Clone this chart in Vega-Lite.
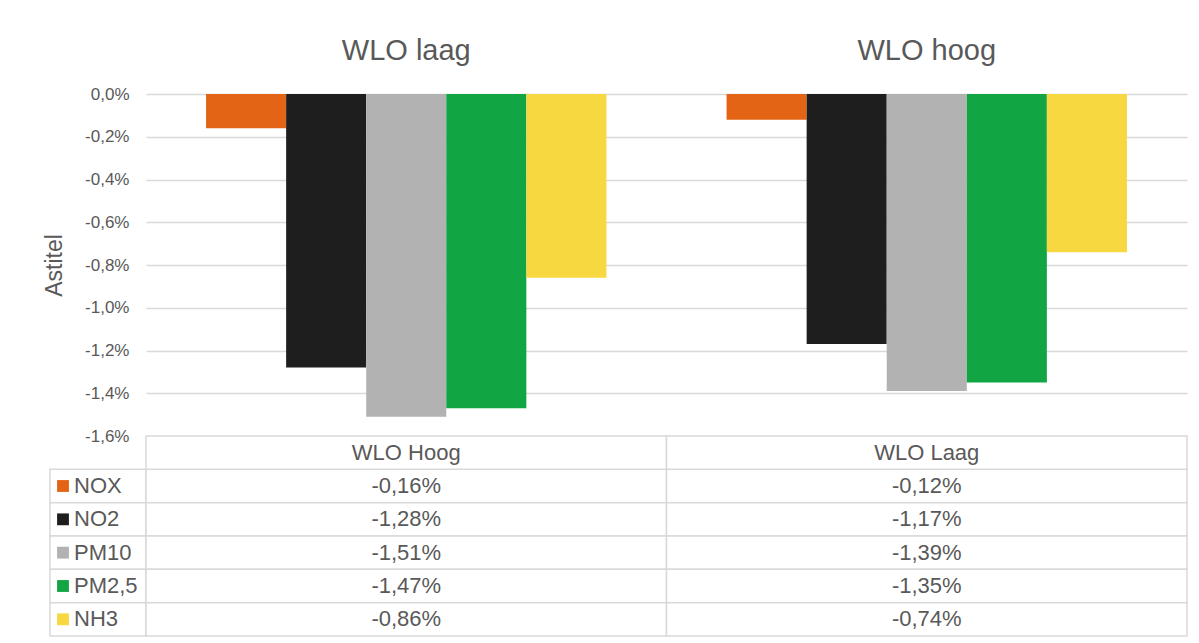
{
  "$schema": "https://vega.github.io/schema/vega-lite/v6.json",
  "background": "white",
  "padding": {"left": 43, "top": 36, "right": 5, "bottom": 5},
  "bounds": "flush",
  "spacing": 0,
  "columns": 2,
  "config": {
    "font": "Liberation Sans",
    "view": {"stroke": null},
    "locale": {"number": {"decimal": ",", "thousands": ".", "grouping": [3], "currency": ["€ ", ""], "minus": "-"}}
  },
  "datasets": {
    "waarden": [
      {"groep": "WLO laag", "kolom": "WLO Hoog", "stof": "NOX", "waarde": -0.0016},
      {"groep": "WLO laag", "kolom": "WLO Hoog", "stof": "NO2", "waarde": -0.0128},
      {"groep": "WLO laag", "kolom": "WLO Hoog", "stof": "PM10", "waarde": -0.0151},
      {"groep": "WLO laag", "kolom": "WLO Hoog", "stof": "PM2,5", "waarde": -0.0147},
      {"groep": "WLO laag", "kolom": "WLO Hoog", "stof": "NH3", "waarde": -0.0086},
      {"groep": "WLO hoog", "kolom": "WLO Laag", "stof": "NOX", "waarde": -0.0012},
      {"groep": "WLO hoog", "kolom": "WLO Laag", "stof": "NO2", "waarde": -0.0117},
      {"groep": "WLO hoog", "kolom": "WLO Laag", "stof": "PM10", "waarde": -0.0139},
      {"groep": "WLO hoog", "kolom": "WLO Laag", "stof": "PM2,5", "waarde": -0.0135},
      {"groep": "WLO hoog", "kolom": "WLO Laag", "stof": "NH3", "waarde": -0.0074}
    ]
  },
  "concat": [
    {
      "width": 96,
      "height": 342,
      "data": {"values": [{}]},
      "mark": {"type": "text"},
      "encoding": {"text": {"value": ""}}
    },
    {
      "width": 1041,
      "height": 342,
      "data": {"name": "waarden"},
      "mark": {"type": "bar"},
      "encoding": {
        "x": {
          "field": "groep",
          "type": "nominal",
          "sort": ["WLO laag", "WLO hoog"],
          "scale": {"paddingInner": 0, "paddingOuter": 0},
          "axis": {"orient": "top", "title": null, "domain": false, "ticks": false, "labelAngle": 0, "labelFontSize": 29, "labelColor": "#595959", "labelPadding": 29}
        },
        "xOffset": {
          "field": "stof",
          "type": "nominal",
          "sort": ["NOX", "NO2", "PM10", "PM2,5", "NH3"],
          "scale": {"paddingInner": 0, "paddingOuter": 0.75}
        },
        "y": {
          "field": "waarde",
          "type": "quantitative",
          "scale": {"domain": [-0.016, 0], "nice": false},
          "axis": {
            "values": [0, -0.002, -0.004, -0.006, -0.008, -0.01, -0.012, -0.014, -0.016],
            "format": ".1%",
            "title": "Astitel",
            "titleFontSize": 23,
            "titleFontWeight": "normal",
            "titleColor": "#595959",
            "titlePadding": 18,
            "labelFontSize": 17,
            "labelColor": "#595959",
            "labelPadding": 17,
            "domain": false,
            "ticks": false,
            "gridColor": "#d9d9d9",
            "gridWidth": 1.5
          }
        },
        "color": {
          "field": "stof",
          "type": "nominal",
          "scale": {"domain": ["NOX", "NO2", "PM10", "PM2,5", "NH3"], "range": ["#E36414", "#1E1E1E", "#B2B2B2", "#11A543", "#F7D840"]},
          "legend": null
        }
      }
    },
    {
      "width": 96,
      "height": 200,
      "data": {"name": "waarden"},
      "transform": [{"filter": {"field": "groep", "equal": "WLO laag"}}],
      "encoding": {
        "y": {
          "field": "stof",
          "type": "nominal",
          "scale": {"domain": ["kop", "NOX", "NO2", "PM10", "PM2,5", "NH3"], "paddingInner": 0, "paddingOuter": 0},
          "axis": null
        }
      },
      "layer": [
        {"mark": {"type": "rect", "fill": "white", "stroke": "#d9d9d9", "strokeWidth": 1.5}},
        {
          "mark": {"type": "point", "shape": "square", "filled": true, "size": 140, "opacity": 1, "xOffset": -35},
          "encoding": {
            "color": {
              "field": "stof",
              "type": "nominal",
              "scale": {"domain": ["NOX", "NO2", "PM10", "PM2,5", "NH3"], "range": ["#E36414", "#1E1E1E", "#B2B2B2", "#11A543", "#F7D840"]},
              "legend": null
            }
          }
        },
        {
          "mark": {"type": "text", "align": "left", "xOffset": -24, "fontSize": 22, "color": "#595959"},
          "encoding": {"text": {"field": "stof", "type": "nominal"}}
        }
      ]
    },
    {
      "width": 1041,
      "height": 200,
      "data": {"name": "waarden"},
      "encoding": {
        "x": {
          "field": "kolom",
          "type": "nominal",
          "sort": ["WLO Hoog", "WLO Laag"],
          "scale": {"paddingInner": 0, "paddingOuter": 0},
          "axis": null
        }
      },
      "layer": [
        {
          "mark": {"type": "rect", "fill": "white", "stroke": "#d9d9d9", "strokeWidth": 1.5},
          "encoding": {
            "y": {"field": "stof", "type": "nominal", "scale": {"domain": ["kop", "NOX", "NO2", "PM10", "PM2,5", "NH3"], "paddingInner": 0, "paddingOuter": 0}, "axis": null}
          }
        },
        {
          "transform": [{"filter": {"field": "stof", "equal": "NOX"}}],
          "mark": {"type": "rect", "fill": "white", "stroke": "#d9d9d9", "strokeWidth": 1.5},
          "encoding": {"y": {"datum": "kop", "type": "nominal"}}
        },
        {
          "mark": {"type": "text", "fontSize": 22, "color": "#595959"},
          "encoding": {
            "y": {"field": "stof", "type": "nominal"},
            "text": {"field": "waarde", "type": "quantitative", "format": ".2%"}
          }
        },
        {
          "transform": [{"filter": {"field": "stof", "equal": "NOX"}}],
          "mark": {"type": "text", "fontSize": 22, "color": "#595959"},
          "encoding": {
            "y": {"datum": "kop", "type": "nominal"},
            "text": {"field": "kolom", "type": "nominal"}
          }
        }
      ]
    }
  ]
}
